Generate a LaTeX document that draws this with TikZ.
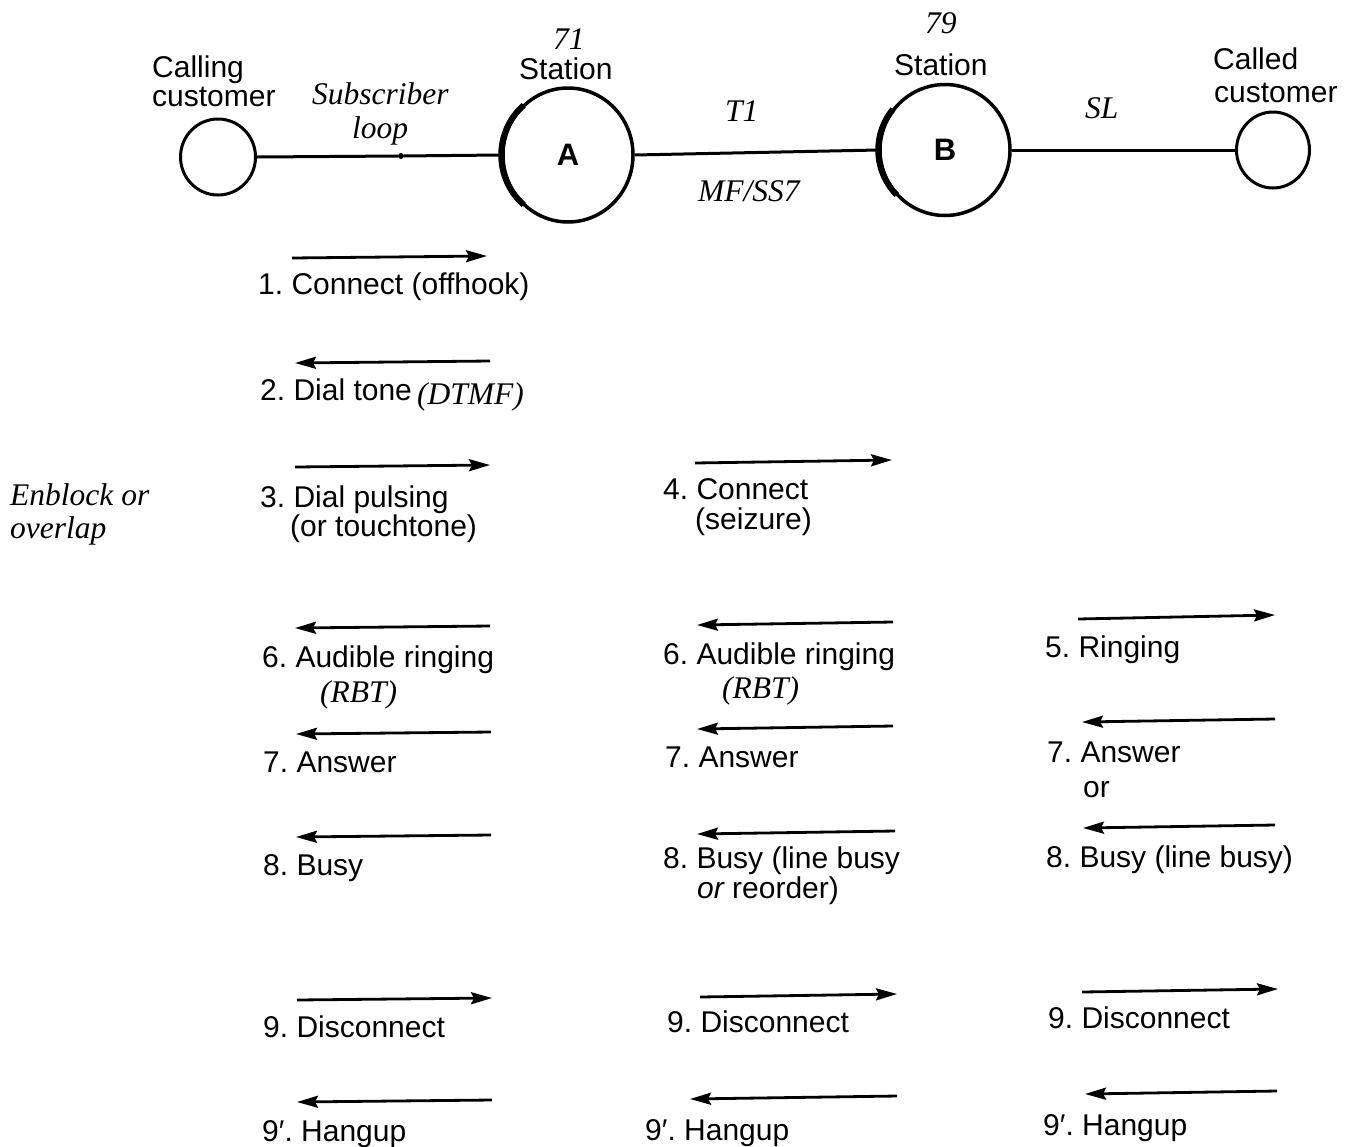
\documentclass[tikz,border=0pt]{standalone}
\usepackage{fontspec}
\setmainfont{Liberation Serif}
\setsansfont{Liberation Sans}
\usetikzlibrary{arrows.meta,shapes.geometric}
\frenchspacing
\begin{document}
\begin{tikzpicture}[x=1pt,y=-1pt,
  sf/.style={font=\fontsize{30}{34}\selectfont\sffamily, inner sep=0pt, anchor=base west},
  it/.style={font=\fontsize{31.5}{36}\selectfont\itshape, inner sep=0pt, anchor=base west},
  wire/.style={line width=3pt},
  rsig/.style={line width=2.8pt,-{Stealth[length=21pt,width=12pt,inset=3pt]}},
  lsig/.style={line width=2.8pt,{Stealth[length=21pt,width=12pt,inset=3pt]}-},
  stn/.style={ellipse,draw,line width=3.5pt,inner sep=0pt,font=\fontsize{31}{34}\selectfont\sffamily\bfseries},
  cust/.style={ellipse,draw,line width=3pt,inner sep=0pt}]
\useasboundingbox (0,0) rectangle (1351,1146);

% network line
\node[cust,minimum width=75pt,minimum height=76pt] (calling) at (218,157) {};
\node[stn,minimum width=130pt,minimum height=134pt] (A) at (568,155) {A};
\node[stn,minimum width=130pt,minimum height=131pt] (B) at (945,150) {B};
\node[cust,minimum width=73pt,minimum height=76pt] (called) at (1273,150) {};
\node[circle,fill,inner sep=0pt,minimum size=6pt] (dot) at (401,156) {};
\draw[wire] (calling.east) -- (dot) -- (A.west);
\draw[wire] (A.east) -- (B.west);
\draw[wire] (B.east) -- (called.west);
% thicker left sides of the stations
\draw[line width=6pt] (A.west) arc[start angle=180,end angle=230,x radius=63pt,y radius=65pt];
\draw[line width=6pt] (A.west) arc[start angle=180,end angle=130,x radius=63pt,y radius=65pt];
\draw[line width=6pt] (B.west) arc[start angle=180,end angle=225,x radius=63pt,y radius=63.5pt];
\draw[line width=6pt] (B.west) arc[start angle=180,end angle=140,x radius=63pt,y radius=63.5pt];

% top labels
\node[sf] (lcall1) at (152,77) {Calling};
\node[sf] (lcall2) at (152,106) {customer};
\node[it] (lsub1) at (312,104) {Subscriber};
\node[it] (lsub2) at (352,138) {loop};
\node[it] (l71) at (553,49) {71};
\node[sf] (lstA) at (519,79) {Station};
\node[it] (l79) at (925,33) {79};
\node[sf] (lstB) at (894,75) {Station};
\node[sf] (lcd1) at (1213,69) {Called};
\node[sf] (lcd2) at (1214,102) {customer};
\node[it] (lT1) at (725,121) {T1};
\node[it] (lMF) at (698,201) {MF/SS7};
\node[it] (lSL) at (1085,118) {SL};

% signal arrows
\foreach \n/\xa/\ya/\xb/\yb/\s in {
  a1/292/258/487/256/rsig, a2/295/363/490/361/lsig, a3/295/467/490/465/rsig,
  a6/295/628/490/626/lsig, a7/296/734/491/732/lsig, a8/296/837/491/835/lsig,
  a9/297/1000/492/998/rsig, a9p/297/1102/492/1100/lsig,
  b4/695/463/892/460/rsig, b6/697/625/893/622/lsig, b7/697/729/893/726/lsig,
  b8/697/834/895/831/lsig, b9/700/997/897/994/rsig, b9p/690/1099/897/1096/lsig,
  c5/1078/619/1275/615/rsig, c7/1082/722/1275/719/lsig, c8/1083/828/1275/825/lsig,
  c9/1082/992/1278/989/rsig, c9p/1085/1094/1277/1091/lsig}
{
  \coordinate (\n s) at (\xa,\ya);
  \coordinate (\n e) at (\xb,\yb);
  \draw[\s] (\n s) -- (\n e);
}

% column 1 labels
\node[sf] (t1) at (258,294) {1. Connect (offhook)};
\node[sf] (t2) at (260,400) {2. Dial tone};
\node[it] (t2b) at (417,404) {(DTMF)};
\node[sf] (t3) at (260,507) {3. Dial pulsing};
\node[sf] (t3b) at (290,536) {(or touchtone)};
\node[it] (enb1) at (10,505) {Enblock or};
\node[it] (enb2) at (10,538) {overlap};
\node[sf] (t6) at (262,667) {6. Audible ringing};
\node[it] (t6b) at (320,702) {(RBT)};
\node[sf] (t7) at (263,772) {7. Answer};
\node[sf] (t8) at (263,875) {8. Busy};
\node[sf] (t9) at (263,1037) {9. Disconnect};
\node[sf] (t9p) at (262,1141) {9′. Hangup};

% column 2 labels
\node[sf] (u4) at (663,499) {4. Connect};
\node[sf] (u4b) at (695,529) {(seizure)};
\node[sf] (u6) at (663,664) {6. Audible ringing};
\node[it] (u6b) at (722,698) {(RBT)};
\node[sf] (u7) at (665,767) {7. Answer};
\node[sf] (u8) at (663,868) {8. Busy (line busy};
\node[sf] (u8b) at (697,898) {\itshape or\upshape{} reorder)};
\node[sf] (u9) at (667,1032) {9. Disconnect};
\node[sf] (u9p) at (645,1140) {9′. Hangup};

% column 3 labels
\node[sf] (v5) at (1045,657) {5. Ringing};
\node[sf] (v7) at (1047,762) {7. Answer};
\node[sf] (v7b) at (1083,797) {or};
\node[sf] (v8) at (1046,867) {8. Busy (line busy)};
\node[sf] (v9) at (1048,1028) {9. Disconnect};
\node[sf] (v9p) at (1043,1135) {9′. Hangup};
\end{tikzpicture}
\end{document}
